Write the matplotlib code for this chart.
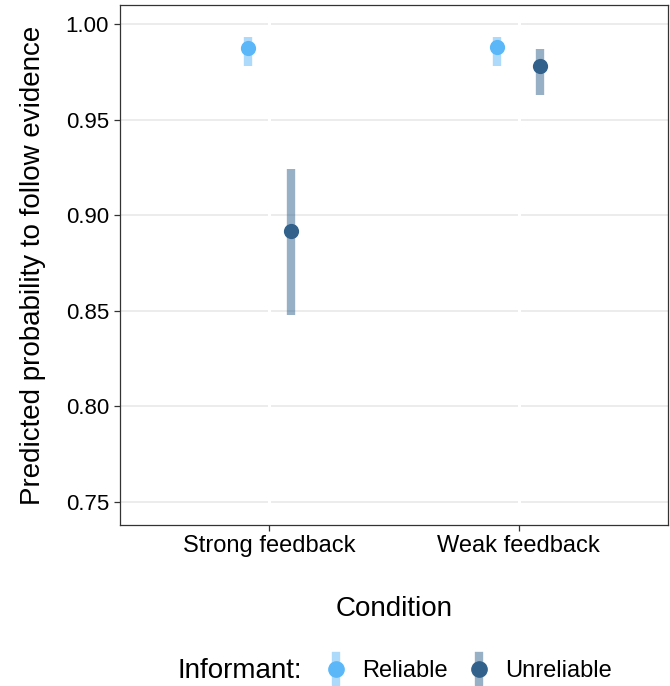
import matplotlib
matplotlib.use("Agg")
import matplotlib.pyplot as plt
from matplotlib.lines import Line2D
from matplotlib.legend_handler import HandlerBase
import numpy as np

plt.rcParams['font.family'] = ['Liberation Sans', 'DejaVu Sans']

conditions = ["Strong feedback", "Weak feedback"]
informants = ["Reliable", "Unreliable"]
estimate = {"Reliable": [0.9875, 0.988], "Unreliable": [0.8915, 0.978]}
lower = {"Reliable": [0.978, 0.978], "Unreliable": [0.848, 0.963]}
upper = {"Reliable": [0.993, 0.993], "Unreliable": [0.924, 0.987]}
colors = {"Reliable": "#5CB7F9", "Unreliable": "#32628C"}
offsets = {"Reliable": -0.0875, "Unreliable": 0.0875}
yticks = [0.75, 0.80, 0.85, 0.90, 0.95, 1.00]

fig = plt.figure(figsize=(6.7, 6.86), dpi=100)
ax = fig.add_axes([120/670, 1-525/686, 548/670, 520/686])

x = np.arange(1, len(conditions)+1)
for inf in informants:
    xs = x + offsets[inf]
    ax.vlines(xs, lower[inf], upper[inf], color=colors[inf], alpha=0.5, lw=6, zorder=3)
    ax.scatter(xs, estimate[inf], s=120, color=colors[inf], zorder=4, linewidths=0)

ax.set_xlim(0.4, 2.6)
ax.set_ylim(0.738, 1.0099)
ax.set_yticks(yticks)
ax.set_yticklabels([f"{v:.2f}" for v in yticks])
ax.set_xticks(x)
ax.set_xticklabels(conditions)
ax.grid(axis='y', color='#EBEBEB', lw=1.3, zorder=0)
for xv in x:
    ax.axvline(xv, color='white', lw=2.2, zorder=1)
ax.set_axisbelow(True)
for s in ax.spines.values():
    s.set_color('#333333'); s.set_linewidth(0.9)
ax.tick_params(axis='both', colors='#333333', labelcolor='black', length=4, width=0.9, pad=4)
ax.tick_params(axis='y', labelsize=16)
ax.tick_params(axis='x', labelsize=17, pad=3)
ax.set_xlabel("Condition", fontsize=20, labelpad=28)
ax.set_ylabel("Predicted probability to follow evidence", fontsize=20, labelpad=14)

class ErrHandler(HandlerBase):
    def create_artists(self, legend, orig, xd, yd, w, h, fontsize, trans):
        c = orig.get_color()
        cx = xd + w/2
        l = Line2D([cx, cx], [yd - 0.3*h, yd + 1.3*h], color=c, alpha=0.5, lw=6, transform=trans)
        m = Line2D([cx], [yd + h/2], marker='o', color=c, markersize=11, lw=0, transform=trans)
        return [l, m]

handles = [Line2D([0], [0], marker='o', color=colors[i], lw=0) for i in informants]
fig.legend(handles, informants, loc='center left', bbox_to_anchor=(322/670, 1-671/686),
           ncol=2, frameon=False, fontsize=17, handler_map={Line2D: ErrHandler()},
           handlelength=1.15, columnspacing=0.75, handletextpad=0.55,
           borderpad=0, borderaxespad=0)
fig.text(302/670, 1-671/686, "Informant:", ha='right', va='center', fontsize=20)

fig.savefig("out.png", dpi=100)
